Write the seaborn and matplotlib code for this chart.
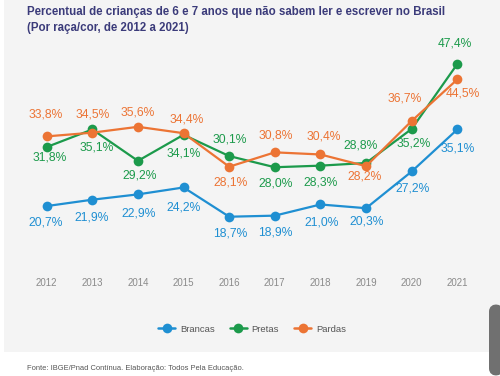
import matplotlib
matplotlib.use("Agg")
import matplotlib.pyplot as plt
from matplotlib.patches import Rectangle, FancyBboxPatch
import seaborn as sns
import pandas as pd

years = [2012, 2013, 2014, 2015, 2016, 2017, 2018, 2019, 2020, 2021]
brancas = [20.7, 21.9, 22.9, 24.2, 18.7, 18.9, 21.0, 20.3, 27.2, 35.1]
pretas = [31.8, 35.1, 29.2, 34.1, 30.1, 28.0, 28.3, 28.8, 35.2, 47.4]
pardas = [33.8, 34.5, 35.6, 34.4, 28.1, 30.8, 30.4, 28.2, 36.7, 44.5]
series_names = ["Brancas", "Pretas", "Pardas"]
title = ("Percentual de crianças de 6 e 7 anos que não sabem ler e escrever no Brasil\n"
         "(Por raça/cor, de 2012 a 2021)")
source = "Fonte: IBGE/Pnad Contínua. Elaboração: Todos Pela Educação."

colors = {"Brancas": "#1f8fd2", "Pretas": "#1c9a4b", "Pardas": "#ec7434"}

# label offsets in pixels (dx, dy; dy positive = up)
label_offsets = {
    "Brancas": [(-1, -16.6), (-1, -18.3), (0.6, -19.3), (0, -20), (1, -16.6),
                (0, -17.3), (0.7, -18.3), (0.3, -13.3), (0.7, -17.3), (0, -18.6)],
    "Pretas": [(2.6, -10.4), (4.3, -18.3), (1.6, -14.7), (0, -18.3), (1, 16.7),
               (1, -16.3), (0, -17), (-5.7, 17.6), (1.6, -14.3), (-2.3, 20.7)],
    "Pardas": [(-1, 21.7), (0, 17.7), (0, 14.6), (3.3, 14), (1, -15.6),
               (1, 16.7), (3.3, 18.4), (-1.4, -10.6), (-7, 22.7), (6, -14)],
}

sns.set_theme(style="white")
plt.rcParams["font.family"] = ["Liberation Sans", "DejaVu Sans"]

W, H = 500, 376
fig = plt.figure(figsize=(5.0, 3.76), dpi=100, facecolor="white")
bg = Rectangle((4 / W, (H - 352) / H), 1 - 4 / W, 352 / H, transform=fig.transFigure,
               facecolor="#f4f4f4", edgecolor="none", zorder=-10)
fig.patches.append(bg)

# axes covers pixel rows 30..272
ax_top_px, ax_bot_px = 30, 272
ax = fig.add_axes([0, 1 - ax_bot_px / H, 1, (ax_bot_px - ax_top_px) / H])
ax.set_facecolor("none")

df = pd.DataFrame({
    "ano": years * 3,
    "valor": brancas + pretas + pardas,
    "grupo": sum([[n] * len(years) for n in series_names], []),
})

sns.lineplot(data=df, x="ano", y="valor", hue="grupo", hue_order=series_names,
             palette=colors, marker="o", markersize=7, markeredgewidth=0,
             linewidth=1.6, ax=ax, legend=False)

a, b = 316.2, 5.32
ax.set_ylim((a - ax_bot_px) / b, (a - ax_top_px) / b)
ax.set_xlim(2012 - 46.7 / 45.62, 2021 + 42.7 / 45.62)

for name, vals in zip(series_names, [brancas, pretas, pardas]):
    for x, v, (dx, dy) in zip(years, vals, label_offsets[name]):
        ax.annotate(f"{v:.1f}%".replace(".", ","), (x, v), xytext=(dx, dy),
                    textcoords="offset pixels", ha="center", va="center",
                    fontsize=8.7, color=colors[name], annotation_clip=False)

ax.set_xticks(years)
ax.set_xticklabels([str(y) for y in years])
ax.tick_params(axis="x", length=0, pad=4, labelsize=7.0, labelcolor="#8a8a8a")
ax.set_yticks([])
ax.set_xlabel("")
ax.set_ylabel("")
for s in ax.spines.values():
    s.set_visible(False)

handles = [plt.Line2D([], [], color=colors[n], marker="o", markersize=7, lw=1.8,
                      markeredgewidth=0) for n in series_names]
fig.legend(handles, series_names, loc="center", bbox_to_anchor=(252 / W, 1 - 329 / H),
           ncol=3, frameon=False, fontsize=6.8, handlelength=1.8, columnspacing=1.6,
           handletextpad=0.5, labelcolor="#555555")

fig.text(27 / W, 1 - 6 / H, title, ha="left", va="top", fontsize=8.3,
         fontweight="bold", color="#3b3b7a", linespacing=1.4)
fig.text(27 / W, 1 - 368 / H, source, ha="left", va="center", fontsize=5.4,
         color="#555555")

# scroll widget at bottom right
widget = FancyBboxPatch((489 / W, (H - 376) / H), 14 / W, 72 / H,
                        boxstyle="round,pad=0,rounding_size=0.02",
                        transform=fig.transFigure, facecolor="#707070",
                        edgecolor="none", zorder=5)
fig.patches.append(widget)

fig.savefig("out.png", dpi=100, facecolor="white")
